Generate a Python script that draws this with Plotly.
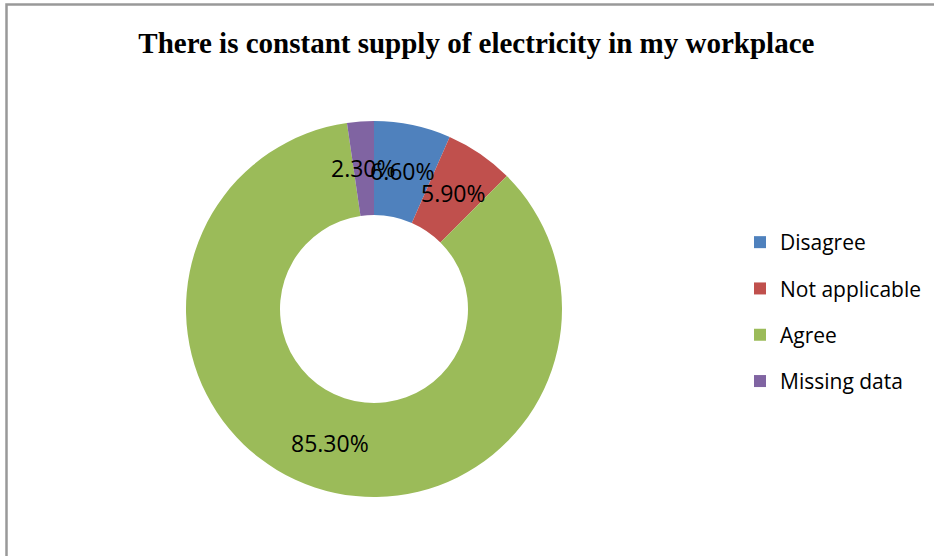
import math
import plotly.graph_objects as go

categories = ["Disagree", "Not applicable", "Agree", "Missing data"]
values = [6.6, 5.9, 85.3, 2.3]
label_text = ["6.60%", "5.90%", "85.30%", "2.30%"]
colors = ["#4F81BD", "#C0504D", "#9BBB59", "#8064A2"]

W, H = 934, 556
cx, cy, R = 374, 309, 188
hole = 0.5

dom_x = [(cx - R) / W, (cx + R) / W]
dom_y = [1 - (cy + R) / H, 1 - (cy - R) / H]

fig = go.Figure()
fig.add_trace(go.Pie(
    labels=categories, values=values, sort=False, direction="clockwise",
    rotation=0, hole=hole, marker=dict(colors=colors, line=dict(width=0)),
    textinfo="none", showlegend=False,
    domain=dict(x=dom_x, y=dom_y),
))

# data labels at the middle of the ring, positioned from the values
total = sum(values)
rmid = R * (1 + hole) / 2
cum = 0
for v, t in zip(values, label_text):
    mid = (cum + v / 2) / total * 2 * math.pi
    cum += v
    px = cx + rmid * math.sin(mid)
    py = cy - rmid * math.cos(mid)
    fig.add_annotation(x=px / W, y=1 - py / H, xref="paper", yref="paper",
                       xanchor="center", yanchor="middle",
                       text=t, showarrow=False,
                       font=dict(family="Open Sans", size=23, color="black"))

# legend entries
for i, (c, col) in enumerate(zip(categories, colors)):
    fig.add_trace(go.Scatter(x=[None], y=[None], mode="markers", name=c,
                             legendgroup=f"g{i}",
                             marker=dict(symbol="square", size=12, color=col)))

fig.add_shape(type="rect", xref="paper", yref="paper",
              x0=6.5 / W, y0=-0.02, x1=1.02, y1=1 - 4.5 / H,
              line=dict(color="#999999", width=2.5))

fig.update_layout(
    width=W, height=H,
    margin=dict(l=0, r=0, t=0, b=0),
    paper_bgcolor="white", plot_bgcolor="white",
    title=dict(text="<b>There is constant supply of electricity in my workplace</b>",
               x=0.51, xref="paper", xanchor="center",
               y=1 - 43 / H, yref="paper", yanchor="middle",
               font=dict(family="Liberation Serif", size=29, color="black")),
    xaxis=dict(visible=False), yaxis=dict(visible=False),
    legend=dict(x=(780 - 40) / W, xanchor="left", y=1 - 222 / H, yanchor="top",
                font=dict(family="Open Sans", size=21, color="black"),
                tracegroupgap=16, bgcolor="rgba(0,0,0,0)"),
)

fig.write_html("out.html")
